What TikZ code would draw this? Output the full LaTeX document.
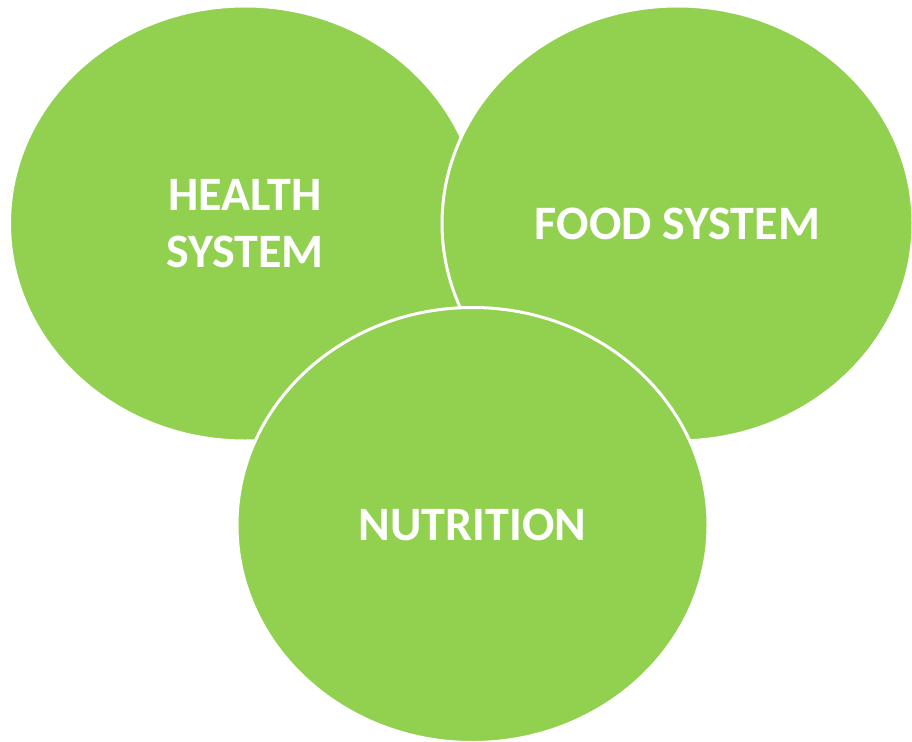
\documentclass[tikz,border=0pt]{standalone}
\usepackage{fontspec}
\setmainfont{Carlito}
\usetikzlibrary{shapes.geometric}
\definecolor{leafgreen}{HTML}{92D050}
\tikzset{
  bubble/.style={ellipse, fill=leafgreen, draw=white, line width=3pt,
    minimum width=471pt, minimum height=435pt, inner sep=0pt,
    align=center, text=white, font=\fontsize{48}{57}\selectfont\bfseries}
}
\begin{document}
\begin{tikzpicture}[x=1pt,y=-1pt]
\useasboundingbox (0,0) rectangle (912,741);
\node[bubble] (health) at (245,223.5) {HEALTH\\SYSTEM};
\node[bubble] (food) at (677.5,223.5) {FOOD SYSTEM};
\node[bubble] (nutrition) at (472.5,525) {NUTRITION};
\end{tikzpicture}
\end{document}
